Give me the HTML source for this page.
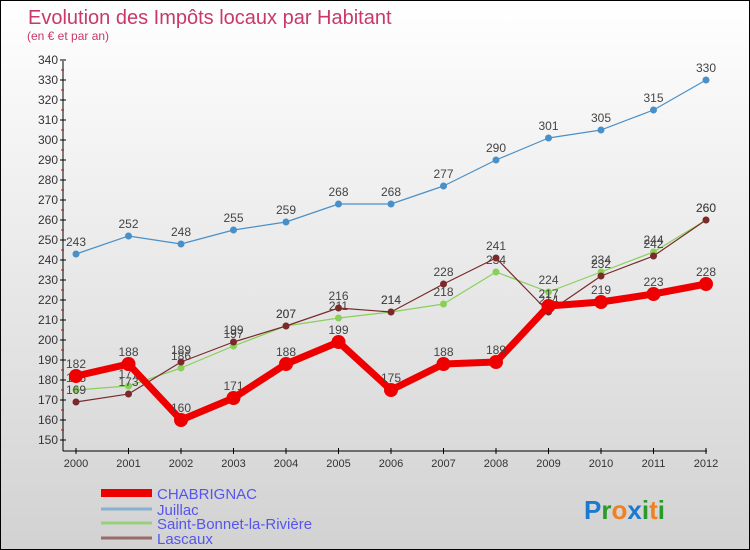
<!DOCTYPE html>
<html><head><meta charset="utf-8"><style>
body{margin:0}
#c{width:750px;height:550px;position:relative;box-sizing:border-box;border:1px solid #000;background:linear-gradient(#fff,#d2d2d2);font-family:"Liberation Sans",sans-serif;overflow:hidden}
</style></head><body>
<div id="c">
<svg id="s" width="750" height="550" style="position:absolute;left:0;top:0">
<text x="27" y="23" font-size="20" fill="#c8386a">Evolution des Impôts locaux par Habitant</text>
<text x="26" y="39" font-size="12" fill="#c8386a">(en € et par an)</text>
</svg>
</div>
<script>
const years=[2000,2001,2002,2003,2004,2005,2006,2007,2008,2009,2010,2011,2012];
const chabrignac=[182,188,160,171,188,199,175,188,189,217,219,223,228];
const juillac=[243,252,248,255,259,268,268,277,290,301,305,315,330];
const saintBonnet=[175,177,186,197,207,211,214,218,234,224,234,244,260];
const lascaux=[169,173,189,199,207,216,214,228,241,214,232,242,260];
const yTicks=[150,160,170,180,190,200,210,220,230,240,250,260,270,280,290,300,310,320,330,340];
const NS="http://www.w3.org/2000/svg",s=document.getElementById('s');
const X=i=>75+i*52.5, Y=v=>439-(v-150)*2;
function mk(t,a,p){const e=document.createElementNS(NS,t);for(const k in a)e.setAttribute(k,a[k]);(p||s).appendChild(e);return e;}
// axes
let ax=mk('g',{});
mk('line',{x1:62,y1:60,x2:62,y2:450,stroke:'#000'},ax);
mk('line',{x1:62,y1:450,x2:706,y2:450,stroke:'#000'},ax);
yTicks.forEach(v=>{mk('line',{x1:59,x2:65,y1:Y(v),y2:Y(v),stroke:'#000'},ax);
 if(v<340)mk('line',{x1:60,x2:63,y1:Y(v+5),y2:Y(v+5),stroke:'#e00'},ax);
 const t=mk('text',{x:57,y:Y(v)+4,'text-anchor':'end','font-size':12,fill:'#333'},ax);t.textContent=v;
 });
years.forEach((yr,i)=>{mk('line',{x1:X(i),x2:X(i),y1:447,y2:453,stroke:'#000'},ax);
 const t=mk('text',{x:X(i),y:466,'text-anchor':'middle','font-size':11,fill:'#333'},ax);t.textContent=yr;
 });
function series(d,col,w,r,name,lc){const g=mk('g',{});
 mk('polyline',{points:d.map((v,i)=>X(i)+','+Y(v)).join(' '),fill:'none',stroke:col,'stroke-width':w,'stroke-linejoin':'round'},g);
 d.forEach((v,i)=>{const c=mk('circle',{cx:X(i),cy:Y(v),r:r,fill:col},g);
  const t=mk('text',{x:X(i),y:Y(v)-8,'text-anchor':'middle','font-size':12,fill:'#444'},g);t.textContent=v;});}
series(juillac,'#4a90c8',1.2,3.5,'series-juillac');
series(saintBonnet,'#88d058',1.2,3.5,'series-saint-bonnet');
series(lascaux,'#7a2a2a',1.2,3.5,'series-lascaux');
series(chabrignac,'#ee0000',7,7,'series-chabrignac');
// legend
const leg=[['CHABRIGNAC','#ee0000',8],['Juillac','#88b0d0',3],['Saint-Bonnet-la-Rivière','#99d080',3],['Lascaux','#9a6a6a',3]];
const lg=mk('g',{});
leg.forEach((l,i)=>{const y=[492,508,522,537][i];const e=mk('g',{},lg);
 mk('line',{x1:100,x2:151,y1:y,y2:y,stroke:l[1],'stroke-width':l[2]},e);
 const t=mk('text',{x:156,y:y+6,'font-size':15,fill:'#5555ee'},e);t.textContent=l[0];});
const lo=mk('text',{x:583,y:518,'font-size':26,'font-weight':'bold'});
[['P','#1a7ad0'],['r','#2a9a2a'],['o','#f08020'],['x','#1a7ad0'],['i','#2a9a2a'],['t','#f08020'],['i','#2a9a2a']].forEach(p=>{const ts=mk('tspan',{fill:p[1]},lo);ts.textContent=p[0];});
</script>
</body></html>
